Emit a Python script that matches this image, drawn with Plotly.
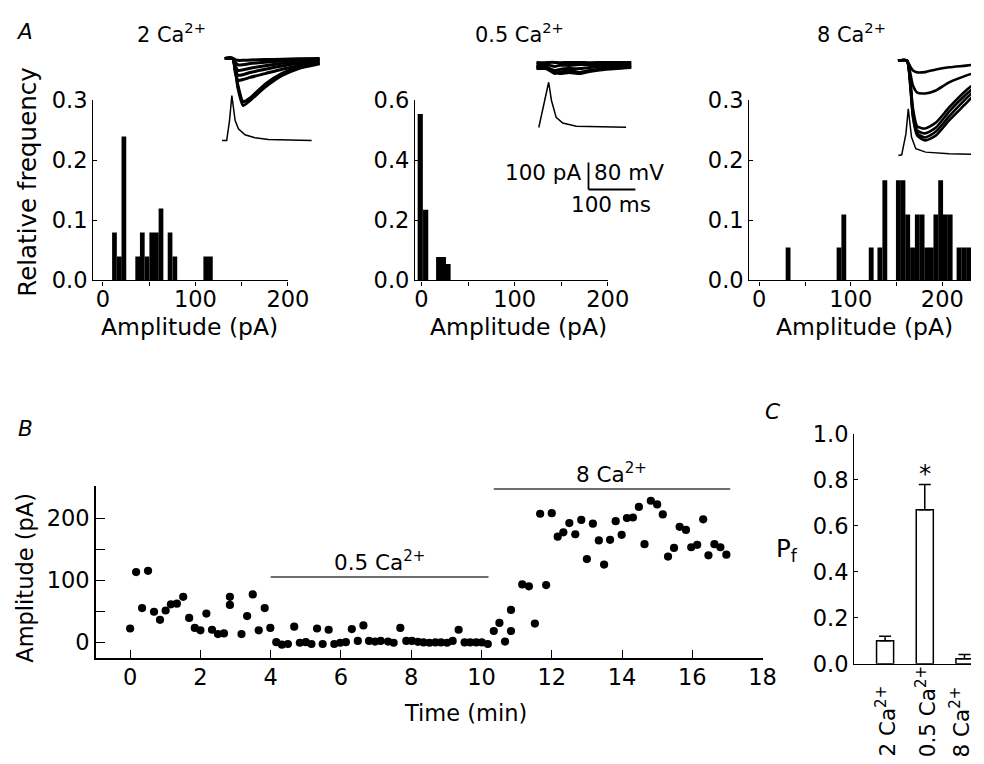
import plotly.graph_objects as go

FONT = "DejaVu Sans"

# ---------------- Panel A : amplitude histograms ----------------
A1_BIN_CENTERS = [12.5, 17.8, 22.7, 37.6, 42.6, 47.7, 52.8, 57.8, 62.8, 72.6, 77.8, 111.2, 116.2]
A1_FREQ = [0.08, 0.04, 0.24, 0.04, 0.08, 0.04, 0.08, 0.08, 0.12, 0.08, 0.04, 0.04, 0.04]

A2_BIN_CENTERS = [-1.3, 4.5, 18.5, 23.5, 28.5]
A2_FREQ = [0.555, 0.236, 0.078, 0.078, 0.055]

A3_BIN_CENTERS = [31.5, 87.2, 92.4, 122.3, 131.8, 137.2, 152.0, 157.0, 162.2, 167.5, 172.7,
                  177.9, 183.0, 188.0, 193.0, 198.2, 203.4, 208.6, 218.3, 223.5, 228.7]
A3_FREQ = [0.055, 0.055, 0.11, 0.055, 0.055, 0.167, 0.167, 0.167, 0.11, 0.055, 0.11,
           0.11, 0.055, 0.055, 0.11, 0.167, 0.11, 0.11, 0.055, 0.055, 0.055]

A_TITLES = ["2 Ca<sup>2+</sup>", "0.5 Ca<sup>2+</sup>", "8 Ca<sup>2+</sup>"]

# ---------------- Inset traces (ms, pA / mV) ----------------
INS1_T = [6, 23, 28, 34, 45, 60, 92, 128, 162, 208]
INS1_EPSC = [
    [0, 0, -37, -110, -174, -155, -106, -63, -38, -20],
    [0, 0, -35, -100, -160, -146, -95, -55, -33, -18],
    [0, 0, -50, -81, -78, -70, -56, -40, -28, -17],
    [0, 0, -38, -62, -60, -52, -40, -28, -19, -11],
    [0, 0, -26, -44, -42, -36, -27, -18, -11, -6],
    [0, 0, -14, -24, -23, -19, -14, -9, -5, -3],
    [0, 0, -4, -7, -7, -6, -4, -3, -1, 0],
]
INS1_AP_T = [0, 10, 16, 21, 28, 35, 49, 70, 99, 191]
INS1_AP_V = [-70, -70, -11, 63, -11, -35, -53, -62, -67, -70]

INS2_T = [4, 21, 32, 43, 53, 74, 96, 117, 149, 206]
INS2_EPSC = [
    [4, 3, 4, 4, 3, 4, 4, 3, 4, 4],
    [-4, -4, -7, -11, -7, -7, -4, -4, -4, 0],
    [-11, -11, -19, -26, -22, -19, -19, -15, -11, -7],
    [-15, -15, -26, -37, -33, -26, -33, -26, -19, -11],
    [-19, -19, -22, -30, -37, -33, -37, -30, -22, -15],
]
INS2_AP_T = [9, 21, 30, 36, 46, 60, 89, 195]
INS2_AP_V = [-70, 10, 64, 10, -40, -57, -66, -69]

INS3_T = [4, 23, 30, 36, 45, 62, 85, 113, 149, 185]
INS3_EPSC = [
    [0, 0, -22, -37, -44, -43, -33, -25, -19, -12],
    [0, 0, -44, -93, -119, -122, -111, -81, -56, -37],
    [0, 0, -67, -178, -244, -252, -230, -174, -111, -63],
    [0, 0, -74, -193, -259, -270, -248, -189, -126, -74],
    [0, 0, -81, -204, -270, -285, -263, -207, -141, -81],
    [0, 0, -89, -211, -278, -296, -278, -222, -159, -93],
]
INS3_AP_T = [5, 12, 21, 26, 33, 42, 63, 113, 183]
INS3_AP_V = [-70, -68, -6, 68, -16, -50, -60, -65, -67]

# ---------------- Panel B : amplitude vs time ----------------
B_TIME = [0.0, 0.17, 0.34, 0.51, 0.68, 0.85, 1.01, 1.16, 1.33, 1.51, 1.68, 1.84, 2.0, 2.17, 2.33,
          2.5, 2.67, 2.84, 2.84, 3.17, 3.33, 3.49, 3.66, 3.83, 3.99, 4.16, 4.32, 4.49, 4.67, 4.83,
          5.0, 5.16, 5.32, 5.48, 5.65, 5.81, 5.98, 6.14, 6.31, 6.48, 6.64, 6.8, 6.97, 7.13, 7.34,
          7.5, 7.69, 7.86, 8.02, 8.19, 8.35, 8.52, 8.69, 8.85, 9.02, 9.18, 9.35, 9.52, 9.68, 9.85,
          10.01, 10.18, 10.35, 10.51, 10.67, 10.84, 10.84, 11.16, 11.35, 11.52, 11.67, 11.84, 12.0,
          12.17, 12.33, 12.5, 12.67, 12.84, 13.0, 13.17, 13.34, 13.49, 13.66, 13.82, 13.99, 14.14,
          14.31, 14.48, 14.64, 14.82, 15.0, 15.16, 15.31, 15.48, 15.64, 15.82, 15.97, 16.14, 16.31,
          16.46, 16.63, 16.8, 16.97]
B_AMP = [22, 113, 55, 115, 49, 36, 51, 61, 62, 73, 39, 23, 19, 46, 20,
         13, 14, 73, 60, 13, 42, 77, 19, 55, 23, 0, -4, -3, 25, -1,
         0, -3, 22, -3, 20, -3, -1, 0, 21, 2, 27, 2, 1, 2, 1,
         -1, 23, 2, 2, 0.5, -0.5, -1, -0.5, -0.5, -1, 2, 20, -0.5, -0.5, -0.5,
         -0.5, -3, 18, 31, 1, 52, 18, 93, 90, 30, 207, 92, 208,
         170, 177, 192, 174, 197, 134, 191, 164, 125, 165, 195, 173, 200,
         201, 218, 158, 228, 222, 206, 138, 152, 186, 181, 153, 157, 198,
         140, 158, 153, 141]
B_BARS = [("0.5 Ca<sup>2+</sup>", 4.0, 10.2, 105), ("8 Ca<sup>2+</sup>", 10.35, 17.08, 247)]

# ---------------- Panel C : Pf ----------------
C_LABELS = ["2 Ca<sup>2+</sup>", "0.5 Ca<sup>2+</sup>", "8 Ca<sup>2+</sup>"]
C_PF = [0.10, 0.67, 0.022]
C_ERR = [0.02, 0.11, 0.018]

W, H = 984, 764
# page-to-screenshot compensation (measured)
OX, OY, SX, SY = 8.7, 20.5, 0.979, 0.966


def fx(p):
    return min(1.0, max(0.0, ((p - OX) / SX) / W))


def fy(p):
    return min(1.0, max(0.0, 1 - ((p - OY) / SY) / H))


def fs(s):
    return round(s / SX, 1)


fig = go.Figure()

# histograms
for i, (xs, ys, wd) in enumerate([(A1_BIN_CENTERS, A1_FREQ, 5.1),
                                   (A2_BIN_CENTERS, A2_FREQ, 5.6),
                                   (A3_BIN_CENTERS, A3_FREQ, 5.3)]):
    sfx = "" if i == 0 else str(i + 1)
    fig.add_trace(go.Bar(x=xs, y=ys, width=wd, marker=dict(color="black", line=dict(width=0)),
                         xaxis="x" + sfx, yaxis="y" + sfx, showlegend=False))

# insets
inset_specs = [
    (INS1_T, INS1_EPSC, INS1_AP_T, INS1_AP_V, "x6", "y6", "y7", 3.0),
    (INS2_T, INS2_EPSC, INS2_AP_T, INS2_AP_V, "x7", "y8", "y9", 3.0),
    (INS3_T, INS3_EPSC, INS3_AP_T, INS3_AP_V, "x8", "y10", "y11", 2.6),
]
for t, epscs, apt, apv, xa, ya, yv, lw in inset_specs:
    for tr in epscs:
        fig.add_trace(go.Scatter(x=t, y=tr, mode="lines",
                                 line=dict(color="black", width=lw, shape="spline", smoothing=0.6),
                                 xaxis=xa, yaxis=ya, showlegend=False, hoverinfo="skip"))
    fig.add_trace(go.Scatter(x=apt, y=apv, mode="lines", line=dict(color="black", width=1.5),
                             xaxis=xa, yaxis=yv, showlegend=False, hoverinfo="skip"))

# panel B
fig.add_trace(go.Scatter(x=B_TIME, y=B_AMP, mode="markers", marker=dict(color="black", size=8.2),
                         xaxis="x4", yaxis="y4", showlegend=False))

# panel C
fig.add_trace(go.Bar(x=[0, 1, 2], y=C_PF, width=0.43,
                     marker=dict(color="white", line=dict(color="black", width=1.5)),
                     error_y=dict(type="data", array=C_ERR, arrayminus=[0, 0, 0], symmetric=False,
                                  color="black", thickness=1.5, width=6),
                     xaxis="x5", yaxis="y5", showlegend=False, cliponaxis=False))

TICK = fs(22)
base = dict(showline=True, linecolor="black", linewidth=1.3, zeroline=False, showgrid=False,
            tickcolor="black", tickwidth=1.3, tickfont=dict(family=FONT, size=TICK, color="black"))
hidden = dict(visible=False, showgrid=False, zeroline=False, fixedrange=True)

amp_ticks = dict(tickvals=[0, 50, 100, 150, 200], ticktext=["0", "", "100", "", "200"])


def rng_at(p0, v0, ppu, p):
    """value at reference pixel p on an axis where value v0 sits at pixel p0 (ppu px/unit)."""
    return v0 + (p - p0) / ppu


# right edge of the area the figure reaches on screen
RIGHT = OX + SX * W

layout = dict(
    width=W, height=H, margin=dict(l=0, r=0, t=0, b=0),
    paper_bgcolor="white", plot_bgcolor="rgba(0,0,0,0)",
    barmode="overlay", showlegend=False,
    font=dict(family=FONT, color="black"),
    xaxis=dict(base, domain=[fx(93), fx(288)], range=[-10.5, 200], anchor="y",
               ticks="outside", ticklen=4, ticklabelstandoff=-6, **amp_ticks),
    yaxis=dict(base, domain=[fy(280), fy(100)], range=[0, 0.3], anchor="x",
               tickvals=[0, 0.1, 0.2, 0.3], ticktext=["0.0", "0.1", "0.2", "0.3"],
               ticks="inside", ticklen=4),
    xaxis2=dict(base, domain=[fx(415.3), fx(608.3)], range=[-6.9, 200], anchor="y2",
                ticks="outside", ticklen=4, ticklabelstandoff=-6, **amp_ticks),
    yaxis2=dict(base, domain=[fy(280), fy(100)], range=[0, 0.6], anchor="x2",
                tickvals=[0, 0.2, 0.4, 0.6], ticktext=["0.0", "0.2", "0.4", "0.6"],
                ticks="inside", ticklen=4),
    xaxis3=dict(base, domain=[fx(750), 1.0], range=[-10.9, rng_at(760, 0, 0.9165, RIGHT)],
                anchor="y3", ticks="outside", ticklen=4, ticklabelstandoff=-6, **amp_ticks),
    yaxis3=dict(base, domain=[fy(280), fy(100)], range=[0, 0.3], anchor="x3",
                tickvals=[0, 0.1, 0.2, 0.3], ticktext=["0.0", "0.1", "0.2", "0.3"],
                ticks="inside", ticklen=4),
    xaxis4=dict(base, domain=[fx(95.7), fx(763.3)], range=[-0.975, 18], anchor="y4",
                tickvals=list(range(0, 19, 2)), ticks="inside", ticklen=8, linewidth=1.6,
                ticklabelstandoff=-2),
    yaxis4=dict(base, domain=[fy(657.3), fy(486)], range=[-25.2, 251], anchor="x4",
                tickvals=[0, 50, 100, 150, 200, 250], ticktext=["0", "", "100", "", "200", ""],
                ticks="inside", ticklen=9, linewidth=1.6),
    xaxis5=dict(base, domain=[fx(855), 1.0], range=[-0.78, rng_at(886, 0, 39.75, RIGHT)],
                anchor="y5", showticklabels=False, ticks=""),
    yaxis5=dict(base, domain=[fy(663.3), fy(433.3)], range=[0, 1.0], anchor="x5",
                tickvals=[0, 0.2, 0.4, 0.6, 0.8, 1.0],
                ticktext=["0.0", "0.2", "0.4", "0.6", "0.8", "1.0"], ticks="inside", ticklen=4),
    xaxis6=dict(hidden, domain=[fx(222), fx(322)], range=[0, 212.8], anchor="y6"),
    yaxis6=dict(hidden, domain=[fy(142), fy(55)], range=[-311, 11], anchor="x6"),
    yaxis7=dict(hidden, overlaying="y6", range=[-75.9, 181.9], anchor="x6"),
    xaxis7=dict(hidden, domain=[fx(535), fx(640)], range=[0, 223.4], anchor="y8"),
    yaxis8=dict(hidden, domain=[fy(192), fy(58)], range=[-477.8, 18.5], anchor="x7"),
    yaxis9=dict(hidden, overlaying="y8", range=[-262.6, 134.4], anchor="x7"),
    xaxis8=dict(hidden, domain=[fx(897), 1.0], range=[0, rng_at(897, 0, 0.47, RIGHT)], anchor="y10"),
    yaxis10=dict(hidden, domain=[fy(160), fy(53)], range=[-370.4, 25.9], anchor="x8"),
    yaxis11=dict(hidden, overlaying="y10", range=[-84.8, 232.2], anchor="x8"),
)

shapes = []
# scale bar (100 pA / 80 mV vertical, 100 ms horizontal) in inset 2 coordinates
shapes.append(dict(type="line", xref="x7", yref="y8", x0=114.9, x1=114.9, y0=-366.7, y1=-466.7,
                   line=dict(color="black", width=1.8)))
shapes.append(dict(type="line", xref="x7", yref="y8", x0=114.9, x1=214.9, y0=-466.7, y1=-466.7,
                   line=dict(color="black", width=1.8)))
# condition bars in panel B
for label, x0, x1, yv in B_BARS:
    shapes.append(dict(type="line", xref="x4", yref="y4", x0=x0, x1=x1, y0=yv, y1=yv,
                       line=dict(color="#6e6e6e", width=2)))
layout["shapes"] = shapes

ann = []


def text(x, y, s, size=22, xanchor="center", yanchor="middle", angle=0, xref="paper", yref="paper",
         yshift=0):
    ann.append(dict(x=x, y=y, xref=xref, yref=yref, text=s, showarrow=False, textangle=angle,
                    xanchor=xanchor, yanchor=yanchor, yshift=yshift,
                    font=dict(family=FONT, size=fs(size), color="black")))


# panel letters
text(fx(14), 1.0, "<i>A</i>", size=21, xanchor="left", yanchor="top", yshift=4)
text(fx(16), fy(428), "<i>B</i>", size=21, xanchor="left")
text(fx(764), fy(411), "<i>C</i>", size=21, xanchor="left")

# histogram titles
text(fx(171), fy(33), A_TITLES[0], size=20.5)
text(fx(520), fy(33), A_TITLES[1], size=20.5)
text(fx(852), fy(33), A_TITLES[2], size=20.5)

# axis titles panel A
text(fx(27), fy(182), "Relative frequency", size=24, angle=-90)
for cx in (189, 519, 865):
    text(fx(cx), fy(327), "Amplitude (pA)", size=23)

# scale bar labels
text(fx(584), fy(172), "100 pA", size=21, xanchor="right")
text(fx(593), fy(172), "80 mV", size=21, xanchor="left")
text(fx(612), fy(204), "100 ms", size=21)

# panel B texts
text(fx(25), fy(577), "Amplitude (pA)", size=22, angle=-90)
text(fx(466), fy(713), "Time (min)", size=22)
for label, x0, x1, yv in B_BARS:
    text((x0 + x1) / 2, yv, label, size=21, yanchor="bottom", xref="x4", yref="y4")

# panel C texts
text(fx(788), fy(550), "P<sub>f</sub>", size=24)
label_x = [fx(886), fx(926.7), fx(961)]
for lx, lab in zip(label_x, C_LABELS):
    text(lx, fy(762), lab, size=21, angle=-90, yanchor="bottom")
text(1, C_PF[1] + C_ERR[1], "*", size=24, yanchor="bottom", xref="x5", yref="y5", yshift=-6)

layout["annotations"] = ann
fig.update_layout(**layout)
fig.write_html("out.html")
